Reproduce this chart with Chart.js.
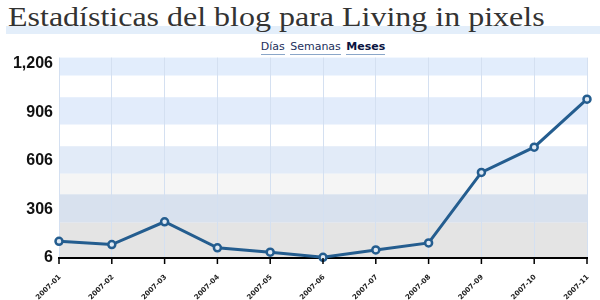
<!DOCTYPE html>
<html>
<head>
<meta charset="utf-8">
<script src="https://cdn.jsdelivr.net/npm/chart.js@4.4.0/dist/chart.umd.min.js"></script>
<style>
  body { margin: 0; background: #fff; width: 600px; height: 300px; overflow: hidden; position: relative; }
  #titleBand { position: absolute; left: 6px; top: 26px; width: 594px; height: 8px; background: #e3eefa; }
  #title { position: absolute; left: 8px; top: 1px; font: 28px 'Liberation Serif', serif; color: #333; white-space: nowrap; transform-origin: 0 0; }
  #links { position: absolute; top: 40px; left: 23px; width: 600px; text-align: center; font: 11px 'DejaVu Sans', sans-serif; color: #1c2f5c; }
  #links span { border-bottom: 1px solid #8aa6c8; padding-bottom: 1px; margin: 0 1px; }
  #links b { color: #0a1440; }
  canvas { position: absolute; left: 0; top: 42px; }
</style>
</head>
<body>
<div id="titleBand"></div>
<div id="title">Estadísticas del blog para Living in pixels</div>
<div id="links"><span>Días</span> <span>Semanas</span> <span><b>Meses</b></span></div>
<canvas id="chart" width="600" height="258"></canvas>
<script>
// data
const months = ['2007-01','2007-02','2007-03','2007-04','2007-05','2007-06','2007-07','2007-08','2007-09','2007-10','2007-11'];
const visits = [109, 89, 230, 69, 42, 10, 56, 99, 535, 691, 988];
const yTicks = [6, 306, 606, 906, 1206];

// background stripes (value boundaries, top to bottom)
const bandEdges = [1245, 1133, 1000, 830, 697, 527, 400, 224, 6];
const bandColors = ['#e2edfc', '#ffffff', '#e2ecfb', '#ffffff', '#e2ebf8', '#f5f5f5', '#d8e1ee', '#e4e4e4'];

// stretch title to reference width
const t = document.getElementById('title');
t.style.transform = 'scaleX(' + (537 / t.offsetWidth) + ')';

const bands = {
    id: 'bands',
    beforeDraw(chart) {
        const { ctx, chartArea: a, scales: { y } } = chart;
        ctx.save();
        for (let i = 0; i < bandColors.length; i++) {
            const top = y.getPixelForValue(bandEdges[i]);
            const bot = y.getPixelForValue(bandEdges[i + 1]);
            ctx.fillStyle = bandColors[i];
            ctx.fillRect(a.left, top, a.right - a.left, bot - top);
        }
        ctx.restore();
    }
};

const tickMarks = {
    id: 'tickMarks',
    afterDraw(chart) {
        const { ctx, chartArea: a, scales: { x } } = chart;
        ctx.save();
        ctx.strokeStyle = '#000';
        ctx.lineWidth = 1.5;
        months.forEach((m, i) => {
            const px = x.getPixelForTick(i);
            ctx.beginPath();
            ctx.moveTo(px, a.bottom);
            ctx.lineTo(px, a.bottom + 6);
            ctx.stroke();
        });
        ctx.restore();
    }
};

new Chart(document.getElementById('chart'), {
    type: 'line',
    data: {
        labels: months,
        datasets: [{
            data: visits,
            borderColor: '#245d8f',
            borderWidth: 3,
            pointRadius: 3.5,
            pointBorderWidth: 2.5,
            pointBackgroundColor: '#dfe9f4',
            pointBorderColor: '#245d8f',
            tension: 0,
            clip: false
        }]
    },
    options: {
        responsive: false,
        animation: false,
        layout: { padding: { top: 0, right: 13, left: 0, bottom: 0 } },
        plugins: { legend: { display: false }, tooltip: { enabled: false } },
        scales: {
            x: {
                offset: false,
                grid: { color: '#d4e0f1', lineWidth: 1, drawTicks: false },
                border: { color: '#000', width: 2 },
                ticks: {
                    autoSkip: false, minRotation: 45, maxRotation: 45,
                    font: { family: 'DejaVu Sans', size: 7, weight: 'bold' },
                    color: '#222', padding: 15, labelOffset: 1
                },
                afterFit: s => { s.height = 42; s.paddingLeft = 0; s.paddingRight = 0; }
            },
            y: {
                min: 6, max: 1245,
                afterBuildTicks: s => { s.ticks = yTicks.map(v => ({ value: v })); },
                afterFit: s => { s.width = 59; },
                grid: { display: false, drawTicks: false, tickLength: 0 },
                border: { display: false },
                ticks: {
                    font: { family: 'Liberation Sans', size: 16, weight: 'bold' },
                    color: '#111', padding: 6,
                    callback: v => v.toLocaleString('en-US')
                }
            }
        }
    },
    plugins: [bands, tickMarks]
});
</script>
</body>
</html>
